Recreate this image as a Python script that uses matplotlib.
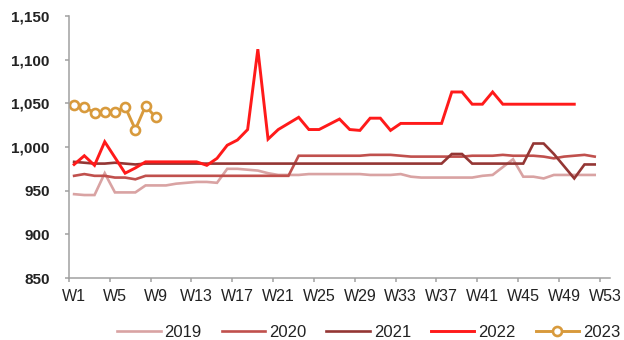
import matplotlib
matplotlib.use("Agg")
import matplotlib.pyplot as plt
from matplotlib.ticker import FuncFormatter, FixedLocator

plt.rcParams['font.family'] = ['Liberation Sans', 'DejaVu Sans']

week_labels = ["W1", "W5", "W9", "W13", "W17", "W21", "W25", "W29", "W33",
               "W37", "W41", "W45", "W49", "W53"]

s2019 = [946, 945, 945, 970, 948, 948, 948, 956, 956, 956, 958, 959, 960, 960,
         959, 975, 975, 974, 973, 970, 968, 968, 968, 969, 969, 969, 969, 969,
         969, 968, 968, 968, 969, 966, 965, 965, 965, 965, 965, 965, 967, 968,
         977, 986, 966, 966, 964, 968, 968, 968, 968, 968]
s2020 = [967, 969, 967, 967, 965, 965, 963, 967, 967, 967, 967, 967, 967, 967,
         967, 967, 967, 967, 967, 967, 967, 967, 990, 990, 990, 990, 990, 990,
         990, 991, 991, 991, 990, 989, 989, 989, 989, 989, 989, 990, 990, 990,
         991, 990, 990, 990, 989, 987, 989, 990, 991, 989]
s2021 = [983, 982, 981, 981, 982, 981, 980, 981, 981, 981, 981, 981, 981, 981,
         981, 981, 981, 981, 981, 981, 981, 981, 981, 981, 981, 981, 981, 981,
         981, 981, 981, 981, 981, 981, 981, 981, 981, 992, 992, 981, 981, 981,
         981, 981, 981, 1004, 1004, 992, 978, 964, 980, 980]
s2022 = [980, 990, 979, 1006, 988, 970, 976, 983, 983, 983, 983, 983, 983, 979,
         987, 1002, 1008, 1020, 1112, 1009, 1020, 1027, 1034, 1020, 1020, 1026,
         1032, 1020, 1019, 1033, 1033, 1019, 1027, 1027, 1027, 1027, 1027, 1063,
         1063, 1049, 1049, 1063, 1049, 1049, 1049, 1049, 1049, 1049, 1049, 1049]
s2023 = [1048, 1046, 1039, 1040, 1040, 1046, 1020, 1047, 1034]

series = [
    ("2019", s2019, "#D9A3A3", 1.9),
    ("2020", s2020, "#C0504D", 1.9),
    ("2021", s2021, "#943634", 1.9),
    ("2022", s2022, "#FF1A1A", 2.1),
]

fig = plt.figure(figsize=(6.24, 3.4), dpi=100)
ax = fig.add_axes([69/624, 1-278/340, (610-69)/624, (278-16)/340])

for name, vals, col, lw in series:
    ax.plot(range(1, len(vals)+1), vals, color=col, lw=lw, label=name,
            solid_joinstyle='miter')
ax.plot(range(1, len(s2023)+1), s2023, color="#D89A3C", lw=2.1, label="2023",
        marker='o', markersize=6.5, markerfacecolor='white',
        markeredgecolor="#D89A3C", markeredgewidth=1.9)

ax.set_xlim(0.5, 53.5)
ax.set_ylim(850, 1150)
ax.set_yticks(range(850, 1151, 50))
ax.yaxis.set_major_formatter(FuncFormatter(lambda v, p: f"{int(v):,}"))

label_pos = [1 + 4*i for i in range(len(week_labels))]
ax.set_xticks(label_pos)
ax.set_xticklabels(week_labels)
ax.xaxis.set_minor_locator(FixedLocator([0.5 + 4*i for i in range(14)]))
ax.tick_params(axis='x', which='major', length=0, pad=8, labelsize=11.5,
               colors='#222222')
ax.tick_params(axis='x', which='minor', length=3, width=1.1, color='#A0A0A0')
ax.tick_params(axis='y', length=3, width=1.1, color='#A0A0A0', pad=11,
               labelsize=11, labelcolor='#222222')
for lab in ax.get_yticklabels():
    lab.set_fontweight('bold')

for s in ['top', 'right']:
    ax.spines[s].set_visible(False)
for s in ['left', 'bottom']:
    ax.spines[s].set_color('#A0A0A0')
    ax.spines[s].set_linewidth(1.1)

leg = fig.legend(loc='center', bbox_to_anchor=(0.591, 0.0235), ncol=5,
                 frameon=False, fontsize=12, handlelength=2.6,
                 handletextpad=0.24, columnspacing=1.2, borderpad=0)
for t in leg.get_texts():
    t.set_color('#222222')

fig.savefig("out.png", dpi=100)
